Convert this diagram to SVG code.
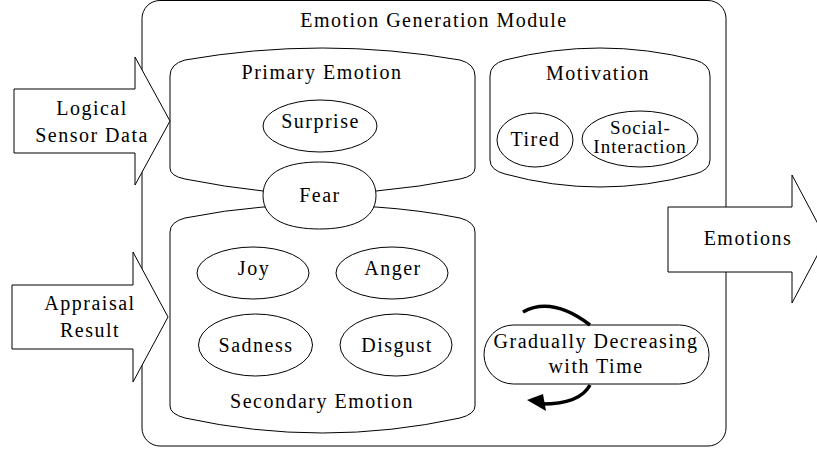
<svg xmlns="http://www.w3.org/2000/svg" width="817" height="452" viewBox="0 0 817 452">
<defs>
<marker id="unused" markerWidth="1" markerHeight="1"/>
</defs>
<rect width="817" height="452" fill="#fff"/>
<g id="module">
<rect fill="#fff" stroke="#000" stroke-width="1" x="142" y="0.5" width="584" height="445.5" rx="18" ry="18"/>
<text x="434" y="27" font-family="Liberation Serif" font-size="20" letter-spacing="1.5" text-anchor="middle">Emotion Generation Module</text>
</g>
<g id="primary">
<path fill="#fff" stroke="#000" stroke-width="1" d="M170,168 L170,76 Q170,64 185,60 Q322,36 460,60 Q475,64 475,76 L475,168 Q475,176 460,179 Q420,187 376,191 L263,191 Q225,187 185,179 Q170,176 170,168 Z"/>
<text x="322" y="79" font-family="Liberation Serif" font-size="20" letter-spacing="1.5" text-anchor="middle">Primary Emotion</text>
</g>
<g id="secondary">
<path fill="#fff" stroke="#000" stroke-width="1" d="M263,207 Q225,210 185,218 Q170,222 170,232 L170,406 Q170,414 185,418 Q322,448 460,418 Q475,414 475,406 L475,232 Q475,222 460,218 Q420,210 376,207 Z"/>
<text x="322" y="408" font-family="Liberation Serif" font-size="20" letter-spacing="1.5" text-anchor="middle">Secondary Emotion</text>
</g>
<g id="surprise">
<ellipse fill="#fff" stroke="#000" stroke-width="1" cx="320" cy="126" rx="57" ry="26"/>
<text x="320.5" y="128" font-family="Liberation Serif" font-size="20" letter-spacing="1.5" text-anchor="middle">Surprise</text>
</g>
<g id="fear">
<path fill="#fff" stroke="#000" stroke-width="1" d="M263,195.5 C263,170 290,162 319.5,162 C349,162 376,170 376,195.5 C376,221 349,229 319.5,229 C290,229 263,221 263,195.5 Z"/>
<text x="320" y="202" font-family="Liberation Serif" font-size="20" letter-spacing="1.5" text-anchor="middle">Fear</text>
</g>
<g id="motivation">
<path fill="#fff" stroke="#000" stroke-width="1" d="M490,76 Q490,64 505,60 Q600,36 695,60 Q710,64 710,76 L710,160 Q710,170 695,174 Q600,200 505,174 Q490,170 490,160 Z"/>
<text x="598" y="80" font-family="Liberation Serif" font-size="20" letter-spacing="1.5" text-anchor="middle">Motivation</text>
</g>
<g id="tired">
<ellipse fill="#fff" stroke="#000" stroke-width="1" cx="535" cy="140" rx="38" ry="27"/>
<text x="535.5" y="146" font-family="Liberation Serif" font-size="20" letter-spacing="1.5" text-anchor="middle">Tired</text>
</g>
<g id="social">
<ellipse fill="#fff" stroke="#000" stroke-width="1" cx="640" cy="139" rx="58" ry="28"/>
<text x="640.5" y="134" font-family="Liberation Serif" font-size="19" letter-spacing="1" text-anchor="middle">Social-</text>
<text x="640" y="153" font-family="Liberation Serif" font-size="19" letter-spacing="1" text-anchor="middle">Interaction</text>
</g>
<g id="joy">
<ellipse fill="#fff" stroke="#000" stroke-width="1" cx="253" cy="273" rx="56" ry="26"/>
<text x="254" y="275" font-family="Liberation Serif" font-size="20" letter-spacing="1.5" text-anchor="middle">Joy</text>
</g>
<g id="anger">
<ellipse fill="#fff" stroke="#000" stroke-width="1" cx="392" cy="273" rx="56" ry="26"/>
<text x="393" y="275" font-family="Liberation Serif" font-size="20" letter-spacing="1.5" text-anchor="middle">Anger</text>
</g>
<g id="sadness">
<ellipse fill="#fff" stroke="#000" stroke-width="1" cx="255.5" cy="345" rx="57" ry="31"/>
<text x="256" y="352" font-family="Liberation Serif" font-size="20" letter-spacing="1.5" text-anchor="middle">Sadness</text>
</g>
<g id="disgust">
<ellipse fill="#fff" stroke="#000" stroke-width="1" cx="396" cy="345" rx="56" ry="31"/>
<text x="397" y="352" font-family="Liberation Serif" font-size="20" letter-spacing="1.5" text-anchor="middle">Disgust</text>
</g>
<g id="decreasing">
<rect fill="#fff" stroke="#000" stroke-width="1" x="484" y="325" width="225" height="59" rx="29.5" ry="29.5"/>
<text x="596" y="348" font-family="Liberation Serif" font-size="20" letter-spacing="1.5" text-anchor="middle">Gradually Decreasing</text>
<text x="596" y="373" font-family="Liberation Serif" font-size="20" letter-spacing="1.5" text-anchor="middle">with Time</text>
</g>
<g id="logical-sensor-data">
<polygon fill="#fff" stroke="#000" stroke-width="1" points="14,89 135,89 135,57 170,121 135,185 135,153 14,153"/>
<text x="92" y="115" font-family="Liberation Serif" font-size="20" letter-spacing="1.5" text-anchor="middle">Logical</text>
<text x="92" y="142" font-family="Liberation Serif" font-size="20" letter-spacing="1.5" text-anchor="middle">Sensor Data</text>
</g>
<g id="appraisal-result">
<polygon fill="#fff" stroke="#000" stroke-width="1" points="12,285 133,285 133,252 168,317 133,382 133,349 12,349"/>
<text x="90" y="310" font-family="Liberation Serif" font-size="20" letter-spacing="1.5" text-anchor="middle">Appraisal</text>
<text x="90" y="337" font-family="Liberation Serif" font-size="20" letter-spacing="1.5" text-anchor="middle">Result</text>
</g>
<g id="emotions">
<polygon fill="#fff" stroke="#000" stroke-width="1" points="668,207 792,207 792,175 826,239 792,303 792,272 668,272"/>
<text x="748" y="245" font-family="Liberation Serif" font-size="20" letter-spacing="1.5" text-anchor="middle">Emotions</text>
</g>
<g id="connectors">
<path fill="none" stroke="#000" stroke-width="3.5" d="M523,312 Q552,296 590,325"/>
<path fill="none" stroke="#000" stroke-width="3.5" d="M590,385 Q580,404 542,404"/>
<polygon points="527,400 543,394 546,411" fill="#000"/>
</g>
</svg>
